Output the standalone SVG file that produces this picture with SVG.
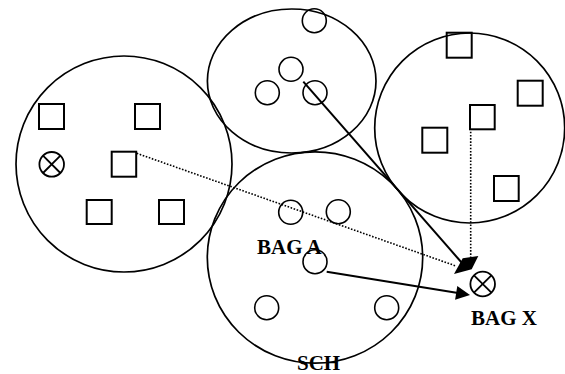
<svg xmlns="http://www.w3.org/2000/svg" width="565" height="374" viewBox="0 0 565 374">
  <style>
    .big { fill: none; stroke: #000; stroke-width: 1.7; }
    .sq { fill: none; stroke: #000; stroke-width: 2; }
    .dot { fill: none; stroke: #000; stroke-width: 1.6; }
    .cross { fill: none; stroke: #000; stroke-width: 1.8; }
    .lbl { font-family: "Liberation Serif", "Times New Roman", serif; font-weight: bold; font-size: 21px; fill: #000; }
    .solid { stroke: #000; stroke-width: 2; fill: none; }
    .dotted { stroke: #000; stroke-width: 1.6; stroke-dasharray: 1.6 1.6; fill: none; }
  </style>
  <defs>
    <g id="otimes">
      <circle cx="0" cy="0" r="12.3" class="cross"/>
      <line x1="-8.7" y1="-8.7" x2="8.7" y2="8.7" class="cross"/>
      <line x1="-8.7" y1="8.7" x2="8.7" y2="-8.7" class="cross"/>
    </g>
  </defs>
  <rect width="565" height="374" fill="#fff"/>

  <!-- left cluster -->
  <g id="cluster-left">
    <circle class="big" cx="124" cy="164" r="108"/>
    <rect class="sq" x="39" y="104" width="25" height="25"/>
    <rect class="sq" x="135" y="104" width="25" height="25"/>
    <rect class="sq" x="111.7" y="151.7" width="24.5" height="25"/>
    <rect class="sq" x="86.7" y="200" width="25" height="24"/>
    <rect class="sq" x="159" y="200" width="25" height="24"/>
    <use href="#otimes" x="51.7" y="164.3"/>
  </g>

  <!-- top cluster -->
  <g id="cluster-top">
    <ellipse class="big" cx="291.7" cy="81" rx="84.3" ry="72"/>
    <circle class="dot" cx="314.3" cy="20.7" r="12"/>
    <circle class="dot" cx="291" cy="69.3" r="12"/>
    <circle class="dot" cx="267.3" cy="92.7" r="12"/>
    <circle class="dot" cx="315" cy="92.7" r="12"/>
  </g>

  <!-- right cluster -->
  <g id="cluster-right">
    <circle class="big" cx="469.7" cy="128" r="95"/>
    <rect class="sq" x="446.7" y="32.7" width="25" height="25"/>
    <rect class="sq" x="517.7" y="80.7" width="25" height="25"/>
    <rect class="sq" x="470" y="105" width="24.7" height="24.3"/>
    <rect class="sq" x="422.3" y="127.7" width="25" height="25"/>
    <rect class="sq" x="494" y="176" width="24.7" height="25"/>
  </g>

  <!-- SCH cluster -->
  <g id="cluster-sch">
    <ellipse class="big" cx="315" cy="257.5" rx="107.7" ry="105.7"/>
    <circle class="dot" cx="290.7" cy="212.3" r="12"/>
    <circle class="dot" cx="338.3" cy="211.7" r="12"/>
    <circle class="dot" cx="315" cy="261.7" r="12"/>
    <circle class="dot" cx="266.7" cy="307.7" r="12"/>
    <circle class="dot" cx="386.7" cy="307.7" r="12"/>
    <text class="lbl" x="257" y="254">BAG A</text>
    <text class="lbl" x="297" y="370">SCH</text>
  </g>

  <!-- bag X -->
  <g id="bag-x">
    <use href="#otimes" x="482.7" y="284"/>
    <text class="lbl" x="471" y="325">BAG X</text>
  </g>

  <!-- connectors -->
  <g id="connectors">
    <line class="dotted" x1="136.7" y1="153.3" x2="456" y2="266"/>
    <line class="dotted" x1="470.7" y1="131.7" x2="470.7" y2="258"/>
    <line class="solid" x1="303.3" y1="81.7" x2="462" y2="263"/>
    <polygon points="462.7,258.3 478.3,256 471.7,269.3 454,274" fill="#000"/>
    <line class="solid" x1="326.7" y1="271.7" x2="458" y2="293"/>
    <polygon points="470,295 457.3,285.9 455.1,299.7" fill="#000"/>
  </g>
</svg>
